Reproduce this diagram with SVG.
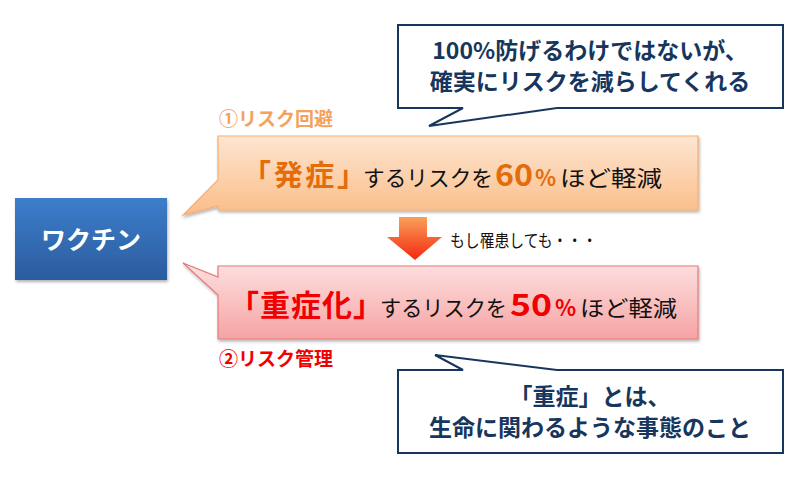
<svg xmlns="http://www.w3.org/2000/svg" width="790" height="480" viewBox="0 0 790 480">
<defs>
<linearGradient id="gBlue" x1="0" y1="0" x2="0" y2="1"><stop offset="0" stop-color="#3d7dcb"/><stop offset="1" stop-color="#2b5c9e"/></linearGradient>
<linearGradient id="gOrange" x1="0" y1="0" x2="0" y2="1"><stop offset="0" stop-color="#fde6d2"/><stop offset="1" stop-color="#fbbd88"/></linearGradient>
<linearGradient id="gPink" x1="0" y1="0" x2="0" y2="1"><stop offset="0" stop-color="#fde0e0"/><stop offset="1" stop-color="#f6a3a3"/></linearGradient>
<linearGradient id="gArrow" x1="0" y1="0" x2="0" y2="1"><stop offset="0" stop-color="#f9a05a"/><stop offset="1" stop-color="#f4280e"/></linearGradient>
<filter id="sh" x="-10%" y="-10%" width="120%" height="130%"><feDropShadow dx="1" dy="2" stdDeviation="1.5" flood-color="#000" flood-opacity="0.3"/></filter>
</defs>
<style>
text{font-family:"Noto Sans CJK JP","Noto Sans",sans-serif;}
.b{font-weight:bold;}
.navy{fill:#17365d;font-weight:bold;font-size:23px;}
.blk{fill:#111;font-size:22px;}
.callout{fill:#fff;stroke:#17365d;stroke-width:2;}
</style>
<rect width="790" height="480" fill="#fff"/>
<g id="vaccine">
<rect x="15" y="198" width="152" height="82" fill="url(#gBlue)" filter="url(#sh)"/>
<text x="91" y="249" text-anchor="middle" class="b" font-size="25" fill="#fff">ワクチン</text>
</g>
<g id="label1"><text x="219" y="126" class="b" font-size="19" fill="#f5a25c">①リスク回避</text></g>
<g id="onset">
<path d="M218,136 H698 V210 H218 V206 L183,215 L218,180 Z" fill="url(#gOrange)" stroke="#f7ad72" stroke-width="1.2" filter="url(#sh)"/>
<text y="186"><tspan x="242" class="b" font-size="29" fill="#e46c0a" textLength="124" lengthAdjust="spacing">「発症」</tspan><tspan x="363" class="blk" textLength="130" lengthAdjust="spacingAndGlyphs">するリスクを</tspan><tspan x="495" class="b" font-size="30" fill="#e46c0a" textLength="38" lengthAdjust="spacingAndGlyphs">60</tspan><tspan x="535" class="b" font-size="22" fill="#e46c0a">%</tspan><tspan x="560" class="blk" font-size="25" textLength="102" lengthAdjust="spacingAndGlyphs">ほど軽減</tspan></text>
</g>
<g id="severe">
<path d="M218,266 H698 V339 H218 V295 L183,263 L218,277 Z" fill="url(#gPink)" stroke="#e57b7b" stroke-width="1.2" filter="url(#sh)"/>
<text y="316"><tspan x="229" class="b" font-size="30" fill="#f00000" textLength="154" lengthAdjust="spacing">「重症化」</tspan><tspan x="380" class="blk" textLength="127" lengthAdjust="spacingAndGlyphs">するリスクを</tspan><tspan x="510" class="b" font-size="30" fill="#f00000" textLength="42" lengthAdjust="spacingAndGlyphs">50</tspan><tspan x="555" class="b" font-size="22" fill="#f00000">%</tspan><tspan x="580" class="blk" font-size="25" textLength="97" lengthAdjust="spacingAndGlyphs">ほど軽減</tspan></text>
</g>
<g id="label2"><text x="219" y="366" class="b" font-size="19" fill="#f00000">②リスク管理</text></g>
<g id="note1">
<path class="callout" d="M398,25 H783 V108 H557 L429,126 L463,108 H398 Z"/>
<text x="590" y="59" text-anchor="middle" class="navy">100%防げるわけではないが、</text>
<text x="590" y="90" text-anchor="middle" class="navy">確実にリスクを減らしてくれる</text>
</g>
<g id="note2">
<path class="callout" d="M398,370 H463 L435,355 L557,370 H783 V453 H398 Z"/>
<text x="590" y="405" text-anchor="middle" class="navy">「重症」とは、</text>
<text x="590" y="436" text-anchor="middle" class="navy">生命に関わるような事態のこと</text>
</g>
<g id="connectors">
<path d="M399,217 H427 V237 H442 L415,260 L387,237 H399 Z" fill="url(#gArrow)"/>
<text x="450" y="247" font-size="17" fill="#111" textLength="147" lengthAdjust="spacingAndGlyphs">もし罹患しても・・・</text>
</g>
</svg>
